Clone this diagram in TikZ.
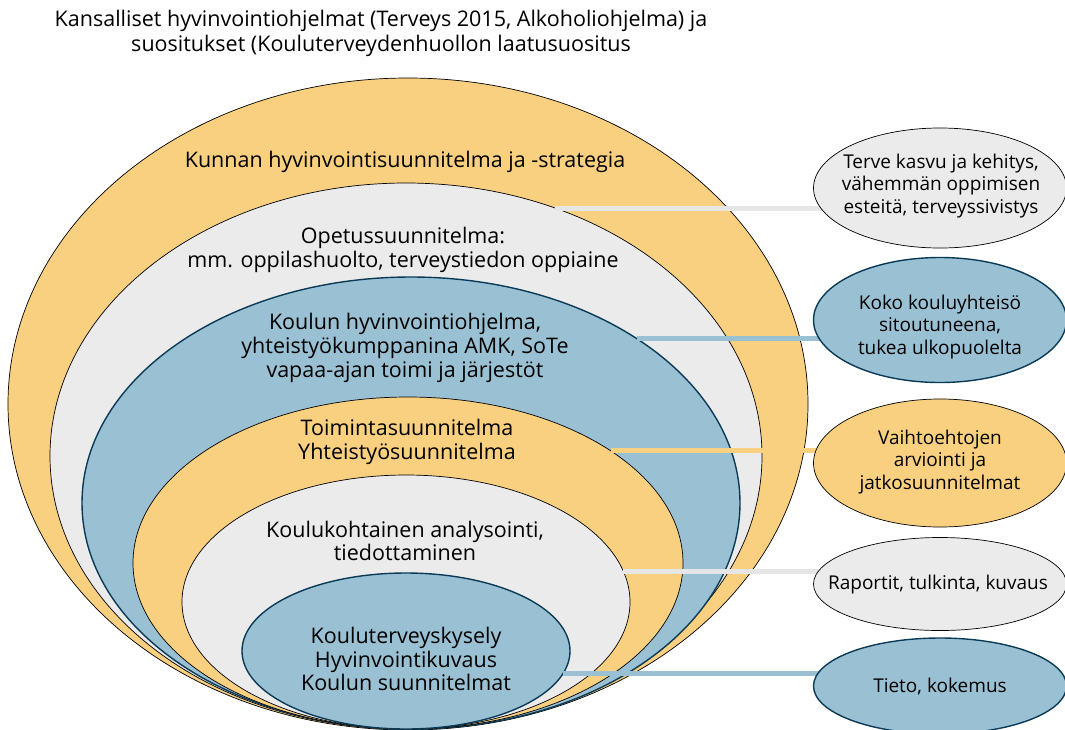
\documentclass[tikz,border=0pt]{standalone}
\usepackage{fontspec}
\setmainfont{Open Sans}
\usetikzlibrary{shapes.geometric}
\definecolor{orangefill}{HTML}{F9D080}
\definecolor{greyfill}{HTML}{EBEBEB}
\definecolor{greyline}{HTML}{E6E6E6}
\definecolor{bluefill}{HTML}{9AC1D3}
\definecolor{blueborder}{HTML}{0B3A57}
\begin{document}
\begin{tikzpicture}[x=1pt,y=-1pt,
  ring/.style={ellipse, inner sep=0pt, outer sep=0pt},
  orangering/.style={ring, fill=orangefill, draw=black, line width=0.7pt},
  greyring/.style={ring, fill=greyfill, draw=black, line width=0.7pt},
  bluering/.style={ring, fill=bluefill, draw=blueborder, line width=1.4pt},
  lbl/.style={align=center, inner sep=0pt, font=\fontsize{21.5}{23.6}\selectfont},
  titlelbl/.style={align=center, inner sep=0pt, font=\fontsize{21.5}{25}\selectfont},
  sidelbl/.style={align=center, inner sep=0pt, font=\fontsize{19}{22.5}\selectfont},
  link/.style={line width=5pt}]
\useasboundingbox (0,0) rectangle (1065,729);
% title
\node[titlelbl] (title) at (381,33.5) {Kansalliset hyvinvointiohjelmat (Terveys 2015, Alkoholiohjelma) ja\\suositukset (Kouluterveydenhuollon laatusuositus};
% nested ellipses
\node[orangering, minimum width=800pt, minimum height=652pt] (E1) at (408,404) {};
\node[greyring,   minimum width=712pt, minimum height=546pt] (E2) at (406,456) {};
\node[bluering,   minimum width=658pt, minimum height=452pt] (E3) at (411,503) {};
\node[orangering, minimum width=550pt, minimum height=332pt] (E4) at (408,563) {};
\node[greyring,   minimum width=448pt, minimum height=254pt] (E5) at (406,602) {};
\node[bluering,   minimum width=328pt, minimum height=156pt] (E6) at (406,651) {};
% texts
\node[lbl] (T1) at (405,162) {Kunnan hyvinvointisuunnitelma ja -strategia};
\node[lbl] (T2) at (403,250) {Opetussuunnitelma:\\mm. oppilashuolto, terveystiedon oppiaine};
\node[lbl] (T3) at (405,348) {Koulun hyvinvointiohjelma,\\yhteistyökumppanina AMK, SoTe\\vapaa-ajan toimi ja järjestöt};
\node[lbl] (T4) at (407,442) {Toimintasuunnitelma\\Yhteistyösuunnitelma};
\node[lbl] (T5) at (405,541) {Koulukohtainen analysointi,\\tiedottaminen};
\node[lbl] (T6) at (406,659) {Kouluterveyskysely\\Hyvinvointikuvaus\\Koulun suunnitelmat};
% side ellipse centres
\coordinate (R1c) at (940,188);
\coordinate (R2c) at (940,320);
\coordinate (R3c) at (940,463);
\coordinate (R4c) at (940,584);
\coordinate (R5c) at (940,686);
% connectors
\draw[link, greyline]   (E2.59.5) -- (E2.59.5 -| R1c);
\draw[link, bluefill]   (E3.36.9) -- (E3.36.9 -| R2c);
\draw[link, orangefill] (E4.29.8) -- (E4.29.8 -| R3c);
\draw[link, greyline]   (E5.8.2)  -- (E5.8.2 -| R4c);
\draw[link, bluefill]   (E6.-8)   -- (E6.-8 -| R5c);
% side ellipses
\node[greyring,   minimum width=253pt, minimum height=120pt] (R1) at (R1c) {};
\node[bluering,   minimum width=253pt, minimum height=125pt] (R2) at (R2c) {};
\node[orangering, minimum width=253pt, minimum height=128pt] (R3) at (R3c) {};
\node[greyring,   minimum width=253pt, minimum height=93pt]  (R4) at (R4c) {};
\node[bluering,   minimum width=253pt, minimum height=96pt]  (R5) at (R5c) {};
\node[sidelbl] (S1) at (941,186) {Terve kasvu ja kehitys,\\vähemmän oppimisen\\esteitä, terveyssivistys};
\node[sidelbl] (S2) at (940,327) {Koko kouluyhteisö\\sitoutuneena,\\tukea ulkopuolelta};
\node[sidelbl] (S3) at (940,462) {Vaihtoehtojen\\arviointi ja\\jatkosuunnitelmat};
\node[sidelbl] (S4) at (938,585) {Raportit, tulkinta, kuvaus};
\node[sidelbl] (S5) at (940,686) {Tieto, kokemus};
\end{tikzpicture}
\end{document}
